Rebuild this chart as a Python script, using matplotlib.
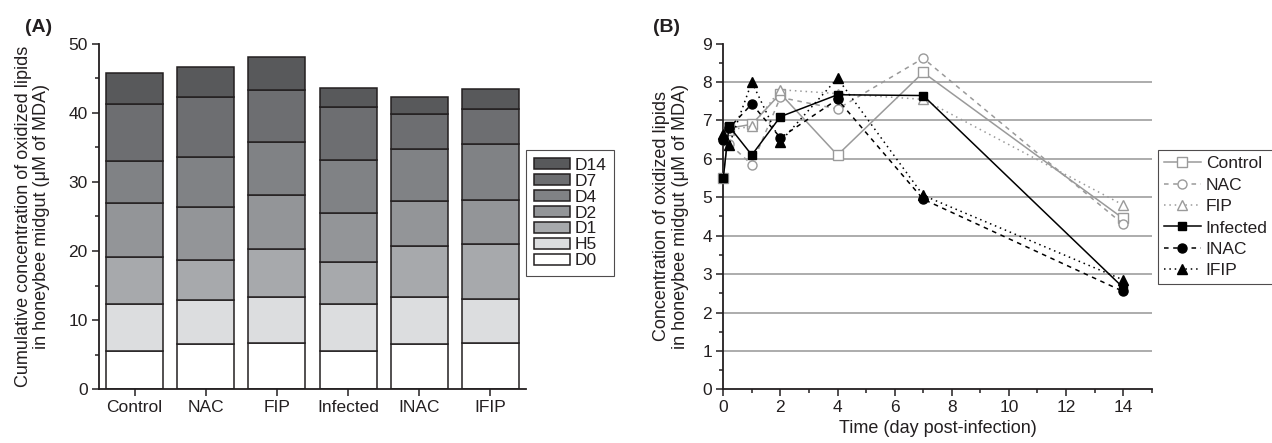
import numpy as np
import matplotlib.pyplot as plt
from matplotlib.ticker import MultipleLocator

plt.rcParams["font.family"] = ["Liberation Sans", "DejaVu Sans"]
plt.rcParams["font.size"] = 12.5
plt.rcParams["text.color"] = "#231f20"
plt.rcParams["axes.labelcolor"] = "#231f20"
plt.rcParams["xtick.color"] = "#231f20"
plt.rcParams["ytick.color"] = "#231f20"

groups = ["Control", "NAC", "FIP", "Infected", "INAC", "IFIP"]
days = ["D0", "H5", "D1", "D2", "D4", "D7", "D14"]
time = [0, 0.2, 1, 2, 4, 7, 14]

# MDA concentration per group, per sampling time (D0, H5, D1, D2, D4, D7, D14)
control = [5.5, 6.8, 6.9, 7.7, 6.1, 8.25, 4.45]
nac = [6.5, 6.4, 5.85, 7.6, 7.3, 8.62, 4.3]
fip = [6.65, 6.75, 6.85, 7.8, 7.7, 7.55, 4.8]
infected = [5.5, 6.85, 6.1, 7.1, 7.67, 7.65, 2.65]
inac = [6.5, 6.8, 7.43, 6.55, 7.55, 4.95, 2.55]
ifip = [6.65, 6.35, 8.0, 6.45, 8.1, 5.05, 2.85]

series = [control, nac, fip, infected, inac, ifip]
bar_colors = ["#ffffff", "#dcdddf", "#a7a9ac", "#939598", "#808285", "#6d6e71", "#58595b"]

fig = plt.figure(figsize=(12.72, 4.43), dpi=100)
axA = fig.add_axes([0.0778, 0.1212, 0.3357, 0.7802])
axB = fig.add_axes([0.5686, 0.1212, 0.3368, 0.7802])

# ---- panel A: stacked bars
vals = np.array(series)
x = np.arange(len(groups))
bottom = np.zeros(len(groups))
handles = []
for j, d in enumerate(days):
    b = axA.bar(x, vals[:, j], 0.8, bottom=bottom, color=bar_colors[j],
                edgecolor="#231f20", linewidth=1.1, label=d)
    handles.append(b)
    bottom += vals[:, j]

axA.set_xlim(-0.5, 5.5)
axA.set_ylim(0, 50)
axA.set_xticks(x)
axA.set_xticklabels(groups)
axA.yaxis.set_major_locator(MultipleLocator(10))
axA.yaxis.set_minor_locator(MultipleLocator(5))
axA.tick_params(axis="both", direction="out", length=5, width=1.1, pad=3)
axA.tick_params(axis="y", which="minor", length=3, width=1.1)
for s in ["top", "right"]:
    axA.spines[s].set_visible(False)
for s in ["left", "bottom"]:
    axA.spines[s].set_linewidth(1.3)
    axA.spines[s].set_color("#231f20")
axA.set_ylabel("Cumulative concentration of oxidized lipids\nin honeybee midgut (μM of MDA)",
               fontsize=13, linespacing=1.1, labelpad=13)
legA = axA.legend(handles[::-1], days[::-1], loc="upper left", bbox_to_anchor=(1.0, 0.692),
                  frameon=True, fancybox=False, edgecolor="#231f20", fontsize=12.5,
                  handlelength=2.1, handleheight=0.6, labelspacing=0.05,
                  handletextpad=0.25, borderpad=0.45, borderaxespad=0)
legA.get_frame().set_linewidth(0.8)
fig.text(0.02, 0.928, "(A)", fontsize=14, fontweight="bold")

# ---- panel B: time course
gray = "#9a9a9a"
styles = [
    dict(color=gray, ls="-", marker="s", mfc="white", mec=gray, ms=6.5),
    dict(color=gray, ls=(0, (3, 3)), marker="o", mfc="white", mec=gray, ms=6.5),
    dict(color=gray, ls=(0, (1, 2.5)), marker="^", mfc="white", mec=gray, ms=7.5),
    dict(color="black", ls="-", marker="s", mfc="black", mec="black", ms=6),
    dict(color="black", ls=(0, (3, 3)), marker="o", mfc="black", mec="black", ms=6.5),
    dict(color="black", ls=(0, (1, 2.5)), marker="^", mfc="black", mec="black", ms=7.5),
]
for yv in range(1, 9):
    axB.axhline(yv, color="#a6a6a6", lw=1.3, zorder=0)
order = [0, 1, 2, 4, 5, 3]
for i in order:
    axB.plot(time, series[i], lw=1.1, label=groups[i], clip_on=False, zorder=3, **styles[i])

axB.set_xlim(0, 15)
axB.set_ylim(0, 9)
axB.xaxis.set_minor_locator(MultipleLocator(1))
axB.yaxis.set_major_locator(MultipleLocator(1))
axB.yaxis.set_minor_locator(MultipleLocator(0.5))
axB.set_xticks(np.arange(0, 15, 2))
axB.tick_params(axis="both", which="both", direction="out", width=1.1, pad=3)
axB.tick_params(axis="both", which="major", length=5)
axB.tick_params(axis="both", which="minor", length=3)
for s in ["top", "right"]:
    axB.spines[s].set_visible(False)
for s in ["left", "bottom"]:
    axB.spines[s].set_linewidth(1.3)
    axB.spines[s].set_color("#231f20")
axB.set_xlabel("Time (day post-infection)", fontsize=13, labelpad=3)
axB.set_ylabel("Concentration of oxidized lipids\nin honeybee midgut (μM of MDA)",
               fontsize=13, linespacing=1.1, labelpad=10)
h, l = axB.get_legend_handles_labels()
idx = [l.index(g) for g in groups]
legB = axB.legend([h[k] for k in idx], [l[k] for k in idx], loc="upper left",
                  bbox_to_anchor=(1.015, 0.692), frameon=True, fancybox=False,
                  edgecolor="#231f20", fontsize=12.5, handlelength=2.1,
                  labelspacing=0.36, handletextpad=0.3, borderpad=0.35, borderaxespad=0)
legB.get_frame().set_linewidth(0.8)
fig.text(0.513, 0.928, "(B)", fontsize=14, fontweight="bold")

fig.savefig("out.png", dpi=100)
